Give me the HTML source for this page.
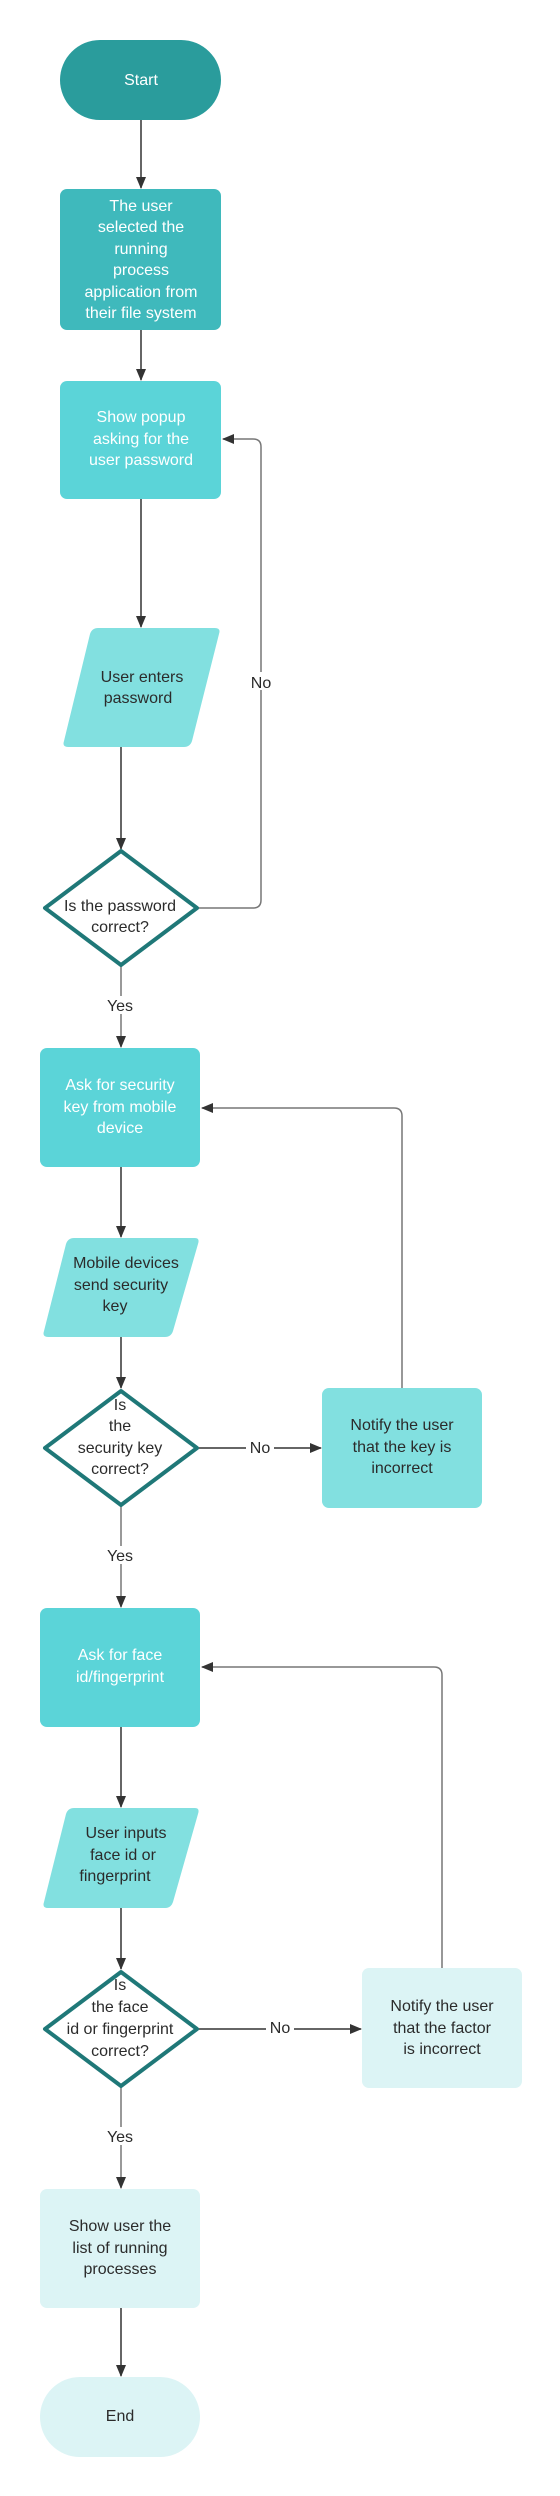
<!DOCTYPE html>
<html><head><meta charset="utf-8"><style>
html,body{margin:0;padding:0;background:#fff;}
svg{display:block;}
text{font-family:"Liberation Sans",sans-serif;font-size:16px;text-anchor:middle;}
.w{fill:#fff;}
.d{fill:#2b2b2b;}
</style></head><body>
<svg width="560" height="2496" viewBox="0 0 560 2496" xmlns="http://www.w3.org/2000/svg">
<defs>
<marker id="a" markerWidth="12" markerHeight="10" refX="11" refY="5" orient="auto" markerUnits="userSpaceOnUse">
<path d="M0,0 L12,5 L0,10 Z" fill="#333"/>
</marker>
</defs>
<g stroke="#333" stroke-width="1.5" fill="none">
<line x1="141" y1="120" x2="141" y2="188" marker-end="url(#a)"/>
<line x1="141" y1="330" x2="141" y2="380" marker-end="url(#a)"/>
<line x1="141" y1="499" x2="141" y2="627" marker-end="url(#a)"/>
<line x1="121" y1="747" x2="121" y2="849" marker-end="url(#a)"/>
<path d="M198,908 H253 Q261,908 261,900 V447 Q261,439 253,439 H223" stroke="#777" marker-end="url(#a)"/>
<line x1="121" y1="966" x2="121" y2="1047" stroke="#777" marker-end="url(#a)"/>
<line x1="121" y1="1167" x2="121" y2="1237" marker-end="url(#a)"/>
<line x1="121" y1="1337" x2="121" y2="1388" marker-end="url(#a)"/>
<line x1="198" y1="1448" x2="321" y2="1448" marker-end="url(#a)"/>
<path d="M402,1388 V1116 Q402,1108 394,1108 H202" stroke="#777" marker-end="url(#a)"/>
<line x1="121" y1="1506" x2="121" y2="1607" stroke="#777" marker-end="url(#a)"/>
<line x1="121" y1="1727" x2="121" y2="1807" marker-end="url(#a)"/>
<line x1="121" y1="1908" x2="121" y2="1969" marker-end="url(#a)"/>
<line x1="198" y1="2029" x2="361" y2="2029" marker-end="url(#a)"/>
<path d="M442,1968 V1675 Q442,1667 434,1667 H202" stroke="#777" marker-end="url(#a)"/>
<line x1="121" y1="2087" x2="121" y2="2188" stroke="#777" marker-end="url(#a)"/>
<line x1="121" y1="2308" x2="121" y2="2376" marker-end="url(#a)"/>
</g>
<!-- label backgrounds -->
<rect x="248" y="672" width="26" height="18" fill="#fff"/>
<rect x="105" y="996" width="32" height="18" fill="#fff"/>
<rect x="246" y="1439" width="28" height="18" fill="#fff"/>
<rect x="105" y="1546" width="32" height="18" fill="#fff"/>
<rect x="266" y="2020" width="28" height="18" fill="#fff"/>
<rect x="105" y="2127" width="32" height="18" fill="#fff"/>

<rect x="60" y="40" width="161" height="80" rx="40" fill="#2a9c9c"/>
<text class="w" x="141" y="85">Start</text>

<rect x="60" y="189" width="161" height="141" rx="7" fill="#3fb9bc"/>
<text class="w" x="141" y="211">The user</text>
<text class="w" x="141" y="232">selected the</text>
<text class="w" x="141" y="254">running</text>
<text class="w" x="141" y="275">process</text>
<text class="w" x="141" y="297">application from</text>
<text class="w" x="141" y="318">their file system</text>

<rect x="60" y="381" width="161" height="118" rx="7" fill="#5bd4d8"/>
<text class="w" x="141" y="422">Show popup</text>
<text class="w" x="141" y="444">asking for the</text>
<text class="w" x="141" y="465">user password</text>

<path d="M96,628 H215 Q221,628 219,634 L192,741 Q190,747 184,747 H68 Q62,747 64,741 L90,634 Q92,628 98,628 Z" fill="#82e0e0"/>
<text class="d" x="142" y="682">User enters</text>
<text class="d" x="138" y="703">password</text>

<path d="M121,851 L197,908 L121,965 L45,908 Z" fill="#fff" stroke="#1f7878" stroke-width="4" stroke-linejoin="round"/>
<text class="d" x="120" y="911">Is the password</text>
<text class="d" x="120" y="932">correct?</text>

<text class="d" x="261" y="688">No</text>
<text class="d" x="120" y="1011">Yes</text>

<rect x="40" y="1048" width="160" height="119" rx="7" fill="#5bd4d8"/>
<text class="w" x="120" y="1090">Ask for security</text>
<text class="w" x="120" y="1112">key from mobile</text>
<text class="w" x="120" y="1133">device</text>

<path d="M72,1238 H195 Q200,1238 198,1244 L173,1331 Q171,1337 165,1337 H48 Q42,1337 44,1331 L66,1244 Q68,1238 74,1238 Z" fill="#82e0e0"/>
<text class="d" x="126" y="1268">Mobile devices</text>
<text class="d" x="121" y="1290">send security</text>
<text class="d" x="115" y="1311">key</text>

<path d="M121,1391 L197,1448 L121,1505 L45,1448 Z" fill="#fff" stroke="#1f7878" stroke-width="4" stroke-linejoin="round"/>
<text class="d" x="120" y="1410">Is</text>
<text class="d" x="120" y="1431">the</text>
<text class="d" x="120" y="1453">security key</text>
<text class="d" x="120" y="1474">correct?</text>
<text class="d" x="260" y="1453">No</text>

<rect x="322" y="1388" width="160" height="120" rx="7" fill="#82e0e0"/>
<text class="d" x="402" y="1430">Notify the user</text>
<text class="d" x="402" y="1452">that the key is</text>
<text class="d" x="402" y="1473">incorrect</text>

<text class="d" x="120" y="1561">Yes</text>

<rect x="40" y="1608" width="160" height="119" rx="7" fill="#5bd4d8"/>
<text class="w" x="120" y="1660">Ask for face</text>
<text class="w" x="120" y="1682">id/fingerprint</text>

<path d="M72,1808 H195 Q200,1808 198,1814 L173,1902 Q171,1908 165,1908 H48 Q42,1908 44,1902 L66,1814 Q68,1808 74,1808 Z" fill="#82e0e0"/>
<text class="d" x="126" y="1838">User inputs</text>
<text class="d" x="123" y="1860">face id or</text>
<text class="d" x="115" y="1881">fingerprint</text>

<path d="M121,1972 L197,2029 L121,2086 L45,2029 Z" fill="#fff" stroke="#1f7878" stroke-width="4" stroke-linejoin="round"/>
<text class="d" x="120" y="1990">Is</text>
<text class="d" x="120" y="2012">the face</text>
<text class="d" x="120" y="2034">id or fingerprint</text>
<text class="d" x="120" y="2056">correct?</text>
<text class="d" x="280" y="2033">No</text>

<rect x="362" y="1968" width="160" height="120" rx="7" fill="#dcf4f5"/>
<text class="d" x="442" y="2011">Notify the user</text>
<text class="d" x="442" y="2033">that the factor</text>
<text class="d" x="442" y="2054">is incorrect</text>

<text class="d" x="120" y="2142">Yes</text>

<rect x="40" y="2189" width="160" height="119" rx="7" fill="#dcf4f5"/>
<text class="d" x="120" y="2231">Show user the</text>
<text class="d" x="120" y="2253">list of running</text>
<text class="d" x="120" y="2274">processes</text>

<rect x="40" y="2377" width="160" height="80" rx="40" fill="#dcf4f5"/>
<text class="d" x="120" y="2421">End</text>
</svg>
</body></html>
